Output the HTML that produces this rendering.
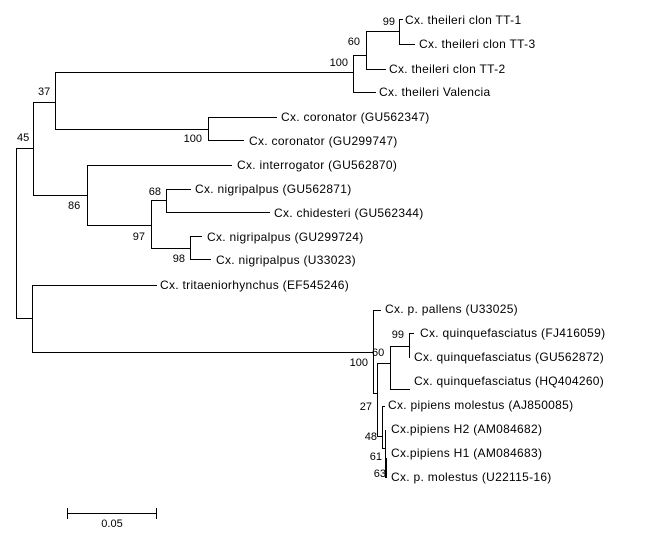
<!DOCTYPE html>
<html><head><meta charset="utf-8"><style>
html,body{margin:0;padding:0;background:#fff;}
svg{display:block;}
text{font-family:"Liberation Sans",Arial,sans-serif;font-size:12px;fill:#000;dominant-baseline:central;letter-spacing:0.3px;}
.s{font-size:11px;letter-spacing:0;}
</style></head><body>
<svg width="657" height="551" viewBox="0 0 657 551" xmlns="http://www.w3.org/2000/svg">
<g stroke="#000" stroke-width="1" fill="none" shape-rendering="crispEdges">
<path d="M16.5 148V318"/>
<path d="M16 148.5H33"/>
<path d="M16 318.5H32"/>
<path d="M33.5 102V195"/>
<path d="M33 102.5H55"/>
<path d="M55.5 72V129"/>
<path d="M55 72.5H353"/>
<path d="M353.5 55V92"/>
<path d="M353 55.5H366"/>
<path d="M353 92.5H376"/>
<path d="M366.5 31V69"/>
<path d="M366 31.5H399"/>
<path d="M366 69.5H386"/>
<path d="M399.5 19V44"/>
<path d="M399 19.5H403"/>
<path d="M399 44.5H415"/>
<path d="M55 129.5H208"/>
<path d="M208.5 117V140"/>
<path d="M208 117.5H277"/>
<path d="M208 140.5H244"/>
<path d="M33 195.5H87"/>
<path d="M87.5 165V225"/>
<path d="M87 165.5H232"/>
<path d="M87 225.5H151"/>
<path d="M151.5 200V248"/>
<path d="M151 200.5H166"/>
<path d="M166.5 189V212"/>
<path d="M166 189.5H191"/>
<path d="M166 212.5H270"/>
<path d="M151 248.5H190"/>
<path d="M190.5 236V259"/>
<path d="M190 236.5H202"/>
<path d="M190 259.5H211"/>
<path d="M32.5 285V352"/>
<path d="M32 285.5H157"/>
<path d="M32 352.5H373"/>
<path d="M373.5 310V393"/>
<path d="M373 310.5H381"/>
<path d="M373 393.5H377"/>
<path d="M377.5 363V436"/>
<path d="M377 363.5H390"/>
<path d="M390.5 346V389"/>
<path d="M390 346.5H409"/>
<path d="M390 389.5H410"/>
<path d="M409.5 333V358"/>
<path d="M409 333.5H414"/>
<path d="M377 436.5H383"/>
<path d="M382.5 406V448"/>
<path d="M382 406.5H385"/>
<path d="M382 448.5H386"/>
<path d="M385.5 430V478"/>
<path d="M386.5 458V478"/>
<path d="M67 513.5H157"/>
<path d="M67.5 508V519"/>
<path d="M156.5 508V519"/>
</g>
<text x="405" y="20">Cx. theileri clon TT-1</text>
<text x="419" y="44">Cx. theileri clon TT-3</text>
<text x="389" y="69">Cx. theileri clon TT-2</text>
<text x="379" y="92">Cx. theileri Valencia</text>
<text x="281" y="117">Cx. coronator (GU562347)</text>
<text x="249" y="141">Cx. coronator (GU299747)</text>
<text x="237" y="165">Cx. interrogator (GU562870)</text>
<text x="195" y="189">Cx. nigripalpus (GU562871)</text>
<text x="274" y="213">Cx. chidesteri (GU562344)</text>
<text x="207" y="237">Cx. nigripalpus (GU299724)</text>
<text x="216" y="260">Cx. nigripalpus (U33023)</text>
<text x="160" y="285">Cx. tritaeniorhynchus (EF545246)</text>
<text x="385" y="309">Cx. p. pallens (U33025)</text>
<text x="420" y="333">Cx. quinquefasciatus (FJ416059)</text>
<text x="414" y="357">Cx. quinquefasciatus (GU562872)</text>
<text x="414" y="381">Cx. quinquefasciatus (HQ404260)</text>
<text x="388" y="405">Cx. pipiens molestus (AJ850085)</text>
<text x="391" y="429">Cx.pipiens H2 (AM084682)</text>
<text x="391" y="453">Cx.pipiens H1 (AM084683)</text>
<text x="391" y="477">Cx. p. molestus (U22115-16)</text>
<text class="s" x="395" y="22" text-anchor="end">99</text>
<text class="s" x="360" y="42" text-anchor="end">60</text>
<text class="s" x="348" y="63" text-anchor="end">100</text>
<text class="s" x="38" y="92">37</text>
<text class="s" x="17" y="138">45</text>
<text class="s" x="202" y="139" text-anchor="end">100</text>
<text class="s" x="68" y="206">86</text>
<text class="s" x="161" y="192" text-anchor="end">68</text>
<text class="s" x="145" y="237" text-anchor="end">97</text>
<text class="s" x="185" y="259" text-anchor="end">98</text>
<text class="s" x="404" y="335" text-anchor="end">99</text>
<text class="s" x="372" y="353">60</text>
<text class="s" x="368" y="363" text-anchor="end">100</text>
<text class="s" x="372" y="407" text-anchor="end">27</text>
<text class="s" x="377" y="437" text-anchor="end">48</text>
<text class="s" x="382" y="457" text-anchor="end">61</text>
<text class="s" x="386" y="474" text-anchor="end">63</text>
<text class="s" x="112" y="524" text-anchor="middle">0.05</text>
</svg>
</body></html>
